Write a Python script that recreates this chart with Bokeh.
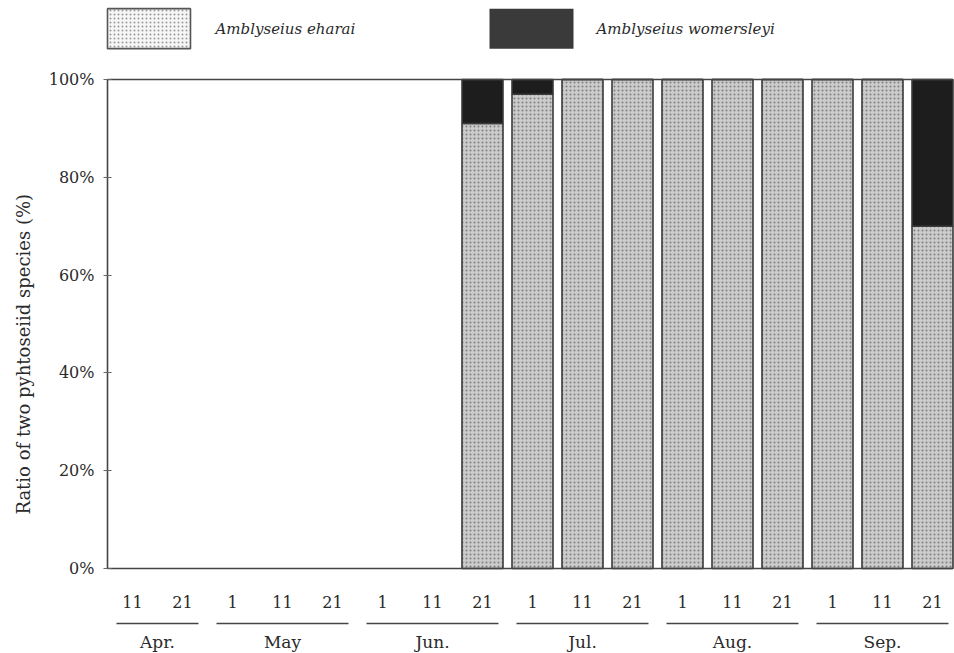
import math
from bokeh.plotting import figure
from bokeh.models import (ColumnDataSource, LinearAxis, FixedTicker,
                          NumeralTickFormatter, Range1d)
from bokeh.core.properties import value
from bokeh.embed import file_html
from bokeh.resources import INLINE

# ---------------- data ----------------
months = ["Apr.", "May", "Jun.", "Jul.", "Aug.", "Sep."]
days = ["11", "21", "1", "11", "21", "1", "11", "21",
        "1", "11", "21", "1", "11", "21", "1", "11", "21"]
day_month = ["Apr.", "Apr.", "May", "May", "May", "Jun.", "Jun.", "Jun.",
             "Jul.", "Jul.", "Jul.", "Aug.", "Aug.", "Aug.", "Sep.", "Sep.", "Sep."]
eharai_pct = [0, 0, 0, 0, 0, 0, 0, 91, 97, 100, 100, 100, 100, 100, 100, 100, 70]
womersleyi_pct = [0, 0, 0, 0, 0, 0, 0, 9, 3, 0, 0, 0, 0, 0, 0, 0, 30]
y_ticks = [0, 0.2, 0.4, 0.6, 0.8, 1.0]
series_names = ["Amblyseius eharai", "Amblyseius womersleyi"]
y_title = "Ratio of two pyhtoseiid species  (%)"

# ---------------- style ----------------
FONT = "DejaVu Serif"
TXT = "#2a2a2a"
EH_FILL = "#cbcbcb"
EH_HATCH = "#7e7e7e"
WO_FILL = "#1d1d1d"
EDGE = "#3a3a3a"

idx = list(range(len(days)))
present = [i for i in idx if eharai_pct[i] + womersleyi_pct[i] > 0]
src = ColumnDataSource(dict(
    x=present,
    eh=[eharai_pct[i] / 100 for i in present],
    top=[(eharai_pct[i] + womersleyi_pct[i]) / 100 for i in present],
))

p = figure(width=954, height=652, x_range=Range1d(-2.64, 16.44),
           y_range=Range1d(-0.1718, 1.1616), output_backend="svg",
           toolbar_location=None, x_axis_type=None, y_axis_type=None,
           min_border=0)
p.outline_line_color = None
p.background_fill_color = "white"

# bars
p.vbar(x="x", width=0.82, bottom=0, top="eh", source=src,
       fill_color=EH_FILL, hatch_pattern="dot", hatch_color=EH_HATCH,
       hatch_scale=4, hatch_weight=1, line_color=EDGE, line_width=1.6)
p.vbar(x="x", width=0.82, bottom="eh", top="top", source=src,
       fill_color=WO_FILL, line_color=EDGE, line_width=1.6)

# plot frame lines (left, top, bottom)
x_left, x_right = -0.5, 16.40
p.segment(x0=[x_left, x_left, x_left], y0=[0, 1, 0],
          x1=[x_left, x_right, x_right], y1=[1, 1, 0],
          line_color="#444444", line_width=1.6)

# y axis
yaxis = LinearAxis(ticker=FixedTicker(ticks=y_ticks),
                   formatter=NumeralTickFormatter(format="0%"),
                   fixed_location=x_left)
yaxis.axis_line_color = None
yaxis.major_tick_line_color = "#666666"
yaxis.major_tick_in = 4
yaxis.major_tick_out = 4
yaxis.minor_tick_line_color = None
yaxis.major_label_standoff = 9
yaxis.major_label_text_font = FONT
yaxis.major_label_text_font_size = "16px"
yaxis.major_label_text_color = TXT
p.add_layout(yaxis, "left")

# x axis (day labels)
xaxis = LinearAxis(ticker=FixedTicker(ticks=idx),
                   major_label_overrides={i: d for i, d in enumerate(days)},
                   fixed_location=0)
xaxis.axis_line_color = None
xaxis.major_tick_line_color = None
xaxis.major_tick_in = 0
xaxis.major_tick_out = 0
xaxis.minor_tick_line_color = None
xaxis.major_label_standoff = 28
xaxis.major_label_text_font = FONT
xaxis.major_label_text_font_size = "16px"
xaxis.major_label_text_color = TXT
p.add_layout(xaxis, "below")

# month groups: underline + name
m_x0, m_x1, m_c = [], [], []
for m in months:
    ii = [i for i in idx if day_month[i] == m]
    m_x0.append(ii[0] - 0.32)
    m_x1.append(ii[-1] + 0.32)
    m_c.append(sum(ii) / len(ii))
line_y, name_y = -0.1125, -0.150
p.segment(x0=m_x0, y0=[line_y] * len(months), x1=m_x1, y1=[line_y] * len(months),
          line_color="#444444", line_width=1.6)
p.text(x=m_c, y=[name_y] * len(months), text=months, text_align="center",
       text_baseline="middle", text_font=value(FONT), text_font_size="17px",
       text_color=TXT)

# y axis title
p.text(x=[-2.18], y=[0.444], text=[y_title], angle=math.pi / 2,
       text_align="center", text_baseline="middle", text_font=value(FONT),
       text_font_size="18px", text_color=TXT)

# legend (top)
leg_y, leg_h = 1.104, 0.0818
p.rect(x=[0.33], y=[leg_y], width=1.66, height=leg_h, fill_color="#f6f6f6",
       hatch_pattern="dot", hatch_color="#9a9a9a", hatch_scale=4, hatch_weight=1,
       line_color="#555555", line_width=1.6)
p.rect(x=[7.98], y=[leg_y], width=1.68, height=leg_h, fill_color="#3a3a3a",
       line_color=None)
p.text(x=[1.66, 9.28], y=[leg_y, leg_y], text=series_names, text_align="left",
       text_baseline="middle", text_font=value(FONT), text_font_style="italic",
       text_font_size="15px", text_color=TXT)

open("out.html", "w").write(file_html(p, INLINE))
